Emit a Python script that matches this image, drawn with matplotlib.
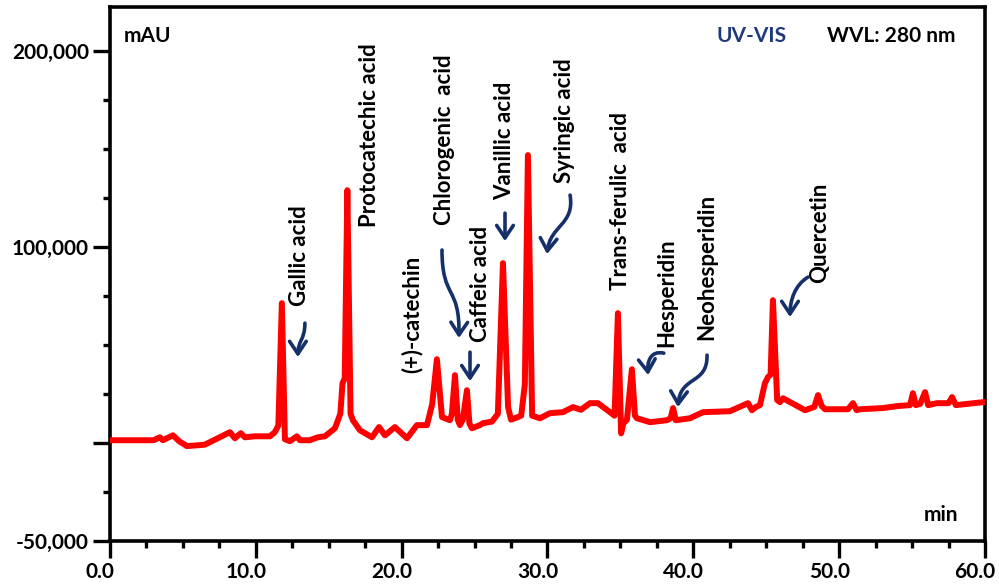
import matplotlib.pyplot as plt
from matplotlib.path import Path
from matplotlib.patches import FancyArrowPatch
from matplotlib.ticker import MultipleLocator, FixedLocator
from matplotlib.transforms import ScaledTranslation

plt.rcParams['font.family'] = ['Lato', 'DejaVu Sans']
plt.rcParams['font.weight'] = 'bold'

# chromatogram trace: (retention time in min, signal in mAU)
trace = [
    (0.0, 1500), (3.0, 1500), (3.43, 3000), (3.63, 1500), (4.32, 4000), (4.75, 1000),
    (5.28, -1500), (6.5, -800), (8.23, 5600), (8.57, 2500), (8.98, 5100), (9.26, 3000),
    (9.94, 3500), (10.97, 3500), (11.31, 5600), (11.55, 9000), (11.79, 71400), (12.0, 2000),
    (12.34, 1000), (12.82, 3500), (13.03, 1500), (13.71, 1500), (14.26, 3000), (14.74, 3500),
    (15.43, 7600), (15.8, 15000), (15.95, 30600), (16.1, 33000), (16.28, 129000), (16.5, 15000),
    (16.66, 11700), (17.14, 6600), (17.97, 3000), (18.45, 8200), (18.86, 4000), (19.54, 8200),
    (20.37, 2500), (21.05, 9200), (21.74, 9200), (22.1, 20000), (22.42, 42800), (22.77, 13300),
    (23.31, 11700), (23.45, 15000), (23.66, 34700), (23.85, 12000), (24.0, 9200), (24.2, 12000),
    (24.48, 27000), (24.65, 10000), (24.82, 7600), (25.37, 9200), (25.58, 10200), (26.2, 11000),
    (26.6, 15000), (26.95, 91800), (27.3, 18400), (27.5, 12000), (27.77, 12700), (28.2, 14000),
    (28.45, 30000), (28.66, 146900), (28.95, 14000), (29.49, 12700), (30.17, 15300), (31.06, 15800),
    (31.75, 18400), (32.3, 17000), (32.91, 20400), (33.46, 20400), (34.29, 15800), (34.6, 14000),
    (34.83, 66300), (35.05, 5000), (35.2, 10000), (35.45, 12000), (35.79, 37700), (36.0, 14000),
    (36.14, 12700), (37.03, 10700), (38.19, 11700), (38.45, 12700), (38.61, 17900), (38.8, 11700),
    (39.77, 12700), (40.66, 15800), (42.51, 16300), (43.75, 20400), (44.02, 16800), (44.3, 18500),
    (44.57, 19400), (44.91, 30600), (45.12, 33700), (45.3, 35000), (45.46, 72900), (45.75, 22000),
    (45.94, 20900), (46.15, 22900), (47.66, 16800), (48.3, 18500), (48.55, 24500), (48.8, 19000),
    (49.03, 17300), (49.85, 17300), (50.6, 17300), (50.95, 20400), (51.2, 16800), (51.43, 17300),
    (53.01, 17900), (53.97, 18900), (54.86, 19400), (55.06, 25500), (55.25, 19400), (55.55, 20000),
    (55.89, 26000), (56.1, 19400), (56.71, 20400), (57.5, 20400), (57.74, 23500), (58.0, 19400),
    (59.86, 20900), (60.0, 20900),
]
time_min = [t for t, v in trace]
signal_mau = [v for t, v in trace]

# compound labels: name, x position (min), y of label start (mAU)
compounds = ['Gallic acid', 'Protocatechic acid', '(+)-catechin', 'Chlorogenic  acid',
             'Caffeic acid', 'Vanillic acid', 'Syringic acid', 'Trans-ferulic  acid',
             'Hesperidin', 'Neohesperidin', 'Quercetin']
label_x = [13.03, 17.83, 20.7, 22.97, 25.44, 27.09, 31.2, 35.04, 38.2, 40.94, 48.69]
label_y = [69900, 110200, 35700, 111200, 51500, 124000, 132600, 78000, 49000, 52500, 81600]

# arrow shafts as cubic curves, pixel-read points converted to (min, mAU)
arrows = [
    [(13.37, 61200), (13.37, 52500), (12.89, 52500), (12.89, 43900)],
    [(22.77, 98500), (22.77, 73000), (24.0, 80700), (23.93, 53600)],
    [(24.69, 46400), (24.69, 42000), (24.69, 36000), (24.69, 31600)],
    [(27.09, 117300), (27.09, 112000), (27.09, 108000), (27.09, 103000)],
    [(31.55, 126500), (31.89, 111200), (30.17, 111200), (29.97, 96400)],
    [(37.98, 45900), (37.03, 47400), (36.83, 41300), (36.9, 34700)],
    [(40.94, 44900), (41.0, 29600), (39.09, 34700), (38.95, 18400)],
    [(47.87, 84700), (46.97, 80700), (46.63, 73000), (46.63, 64300)],
]
arrow_color = '#16306a'

fig = plt.figure(figsize=(9.99, 5.87), dpi=100)
ax = fig.add_axes([0.110, 0.078, 0.876, 0.910])

ax.plot(time_min, signal_mau, color='#ff0000', lw=4.3, solid_joinstyle='round', zorder=3)

for name, x, y in zip(compounds, label_x, label_y):
    ax.text(x, y, name, rotation=90, ha='center', va='bottom', fontsize=16,
            fontweight='bold', color='black', zorder=4)

for pts in arrows:
    codes = [Path.MOVETO, Path.CURVE4, Path.CURVE4, Path.CURVE4]
    patch = FancyArrowPatch(path=Path(pts, codes), arrowstyle='->,head_length=0.45,head_width=0.3',
                            color=arrow_color, lw=2.6, mutation_scale=20, zorder=4)
    ax.add_patch(patch)

ax.text(0.016, 0.945, 'mAU', transform=ax.transAxes, fontsize=15, fontweight='bold', va='center')
ax.text(0.693, 0.945, 'UV-VIS', transform=ax.transAxes, fontsize=15, fontweight='bold',
        color='#1f3a7a', va='center')
ax.text(0.82, 0.945, 'WVL: 280 nm', transform=ax.transAxes, fontsize=15, fontweight='bold',
        va='center')
ax.text(0.93, 0.05, 'min', transform=ax.transAxes, fontsize=15, fontweight='bold', va='center')

ax.set_xlim(0, 60)
ax.set_ylim(-50000, 222400)

ax.set_xticks([0, 10, 20, 30, 40, 50, 60])
ax.set_xticklabels(['0.0', '10.0', '20.0', '30.0', '40.0', '50.0', '60.0'])
ax.xaxis.set_minor_locator(MultipleLocator(2.5))

ax.yaxis.set_major_locator(FixedLocator([-50000, 0, 100000, 200000]))
ax.yaxis.set_minor_locator(MultipleLocator(25000))
ax.set_yticklabels(['-50,000', '', '100,000', '200,000'])

ax.tick_params(axis='both', which='major', length=12, width=2.4, labelsize=15, pad=3)
ax.tick_params(axis='both', which='minor', length=5, width=2.4)
shift = ScaledTranslation(-0.1, 0, fig.dpi_scale_trans)
for lbl in ax.get_xticklabels():
    lbl.set_fontweight('bold')
    lbl.set_transform(lbl.get_transform() + shift)
for lbl in ax.get_yticklabels():
    lbl.set_fontweight('bold')

for sp in ax.spines.values():
    sp.set_linewidth(2.6)
    sp.set_color('black')

fig.savefig('out.png', dpi=100)
